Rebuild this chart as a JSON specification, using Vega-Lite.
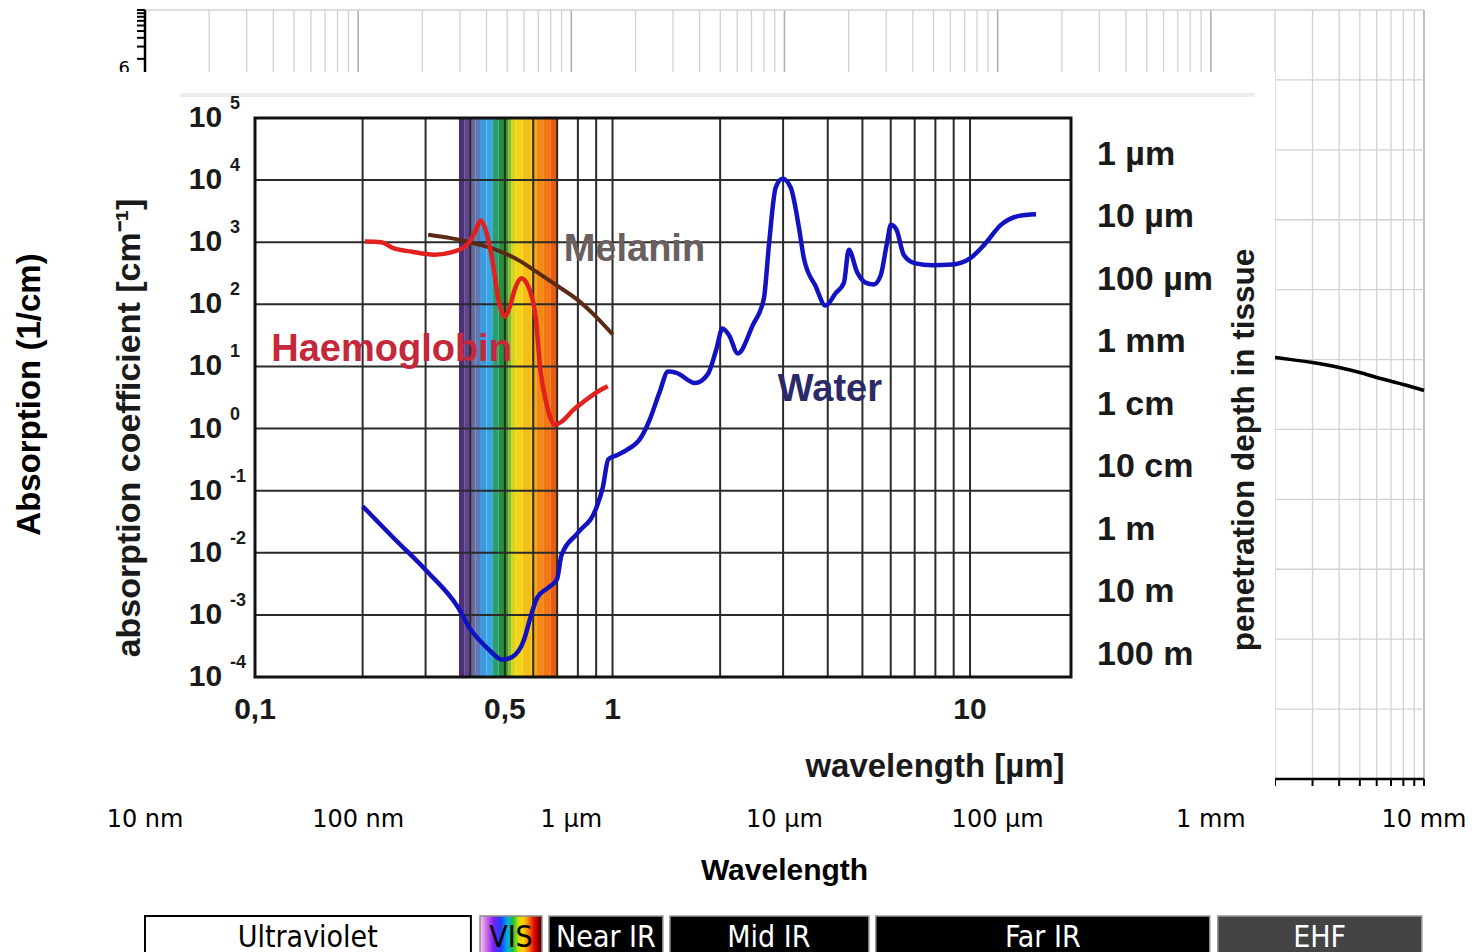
{
"$schema": "https://vega.github.io/schema/vega-lite/v6.json",
"width": 1478, "height": 952, "autosize": "none", "padding": 0, "background": "white",
"config": {"view": {"stroke": null}},
"datasets": {
"outerMinor": [{"w":20},{"w":30},{"w":40},{"w":50},{"w":60},{"w":70},{"w":80},{"w":90},{"w":200},{"w":300},{"w":400},{"w":500},{"w":600},{"w":700},{"w":800},{"w":900},{"w":2000},{"w":3000},{"w":4000},{"w":5000},{"w":6000},{"w":7000},{"w":8000},{"w":9000},{"w":20000},{"w":30000},{"w":40000},{"w":50000},{"w":60000},{"w":70000},{"w":80000},{"w":90000},{"w":200000},{"w":300000},{"w":400000},{"w":500000},{"w":600000},{"w":700000},{"w":800000},{"w":900000},{"w":2000000},{"w":3000000},{"w":4000000},{"w":5000000},{"w":6000000},{"w":7000000},{"w":8000000},{"w":9000000}],
"outerMajor": [{"w":10},{"w":100},{"w":1000},{"w":10000},{"w":100000},{"w":1000000},{"w":10000000}],
"outerDecades": [{"a":0.0001},{"a":0.001},{"a":0.01},{"a":0.1},{"a":1},{"a":10},{"a":100},{"a":1000},{"a":10000},{"a":100000},{"a":1000000},{"a":10000000}],
"outerYTicks": [{"a":0.0001},{"a":0.001},{"a":0.01},{"a":0.1},{"a":1},{"a":10},{"a":100},{"a":1000},{"a":10000},{"a":100000},{"a":1000000},{"a":2000000},{"a":3000000},{"a":4000000},{"a":5000000},{"a":6000000},{"a":7000000},{"a":8000000},{"a":9000000},{"a":10000000}],
"outerXLabels": [{"w":10,"label":"10 nm"},{"w":100,"label":"100 nm"},{"w":1000,"label":"1 μm"},{"w":10000,"label":"10 μm"},{"w":100000,"label":"100 μm"},{"w":1000000,"label":"1 mm"},{"w":10000000,"label":"10 mm"}],
"waterOuter": [{"w":1800000,"a":112},{"w":2000000,"a":107},{"w":3000000,"a":90.6},{"w":4000000,"a":76.9},{"w":5000000,"a":65.2},{"w":6000000,"a":55.3},{"w":8000000,"a":43.9},{"w":10000000,"a":36.1}],
"bands": [
 {"name":"Ultraviolet","start":10,"end":338,"mid":58},
 {"name":"VIS","start":373,"end":728,"mid":521},
 {"name":"Near IR","start":785,"end":2690,"mid":1453},
 {"name":"Mid IR","start":2900,"end":24900,"mid":8450},
 {"name":"Far IR","start":26800,"end":989000,"mid":162900},
 {"name":"EHF","start":1078000,"end":9770000,"mid":3240000}],
"spectrum": [{"lo":0.372,"hi":0.386},{"lo":0.386,"hi":0.399},{"lo":0.399,"hi":0.413},{"lo":0.413,"hi":0.426},{"lo":0.426,"hi":0.444},{"lo":0.444,"hi":0.461},{"lo":0.461,"hi":0.48},{"lo":0.48,"hi":0.5},{"lo":0.5,"hi":0.512},{"lo":0.512,"hi":0.522},{"lo":0.522,"hi":0.534},{"lo":0.534,"hi":0.56},{"lo":0.56,"hi":0.594},{"lo":0.594,"hi":0.612},{"lo":0.612,"hi":0.64},{"lo":0.64,"hi":0.67},{"lo":0.67,"hi":0.7}],
"innerV": [{"w":0.2},{"w":0.3},{"w":0.4},{"w":0.5},{"w":0.6},{"w":0.7},{"w":0.8},{"w":0.9},{"w":1},{"w":2},{"w":3},{"w":4},{"w":5},{"w":6},{"w":7},{"w":8},{"w":9},{"w":10}],
"innerH": [{"a":0.0001},{"a":0.001},{"a":0.01},{"a":0.1},{"a":1},{"a":10},{"a":100},{"a":1000},{"a":10000},{"a":100000}],
"innerXLabels": [{"w":0.1,"label":"0,1"},{"w":0.5,"label":"0,5"},{"w":1,"label":"1"},{"w":10,"label":"10"}],
"water": [{"w":0.2,"a":0.056},{"w":0.245,"a":0.017},{"w":0.304,"a":0.0049},{"w":0.368,"a":0.00138},{"w":0.401,"a":0.00058},{"w":0.447,"a":0.00029},{"w":0.492,"a":0.00019},{"w":0.524,"a":0.00021},{"w":0.565,"a":0.00039},{"w":0.59,"a":0.00093},{"w":0.616,"a":0.0019},{"w":0.664,"a":0.0028},{"w":0.7,"a":0.0038},{"w":0.72,"a":0.0092},{"w":0.8,"a":0.021},{"w":0.9,"a":0.052},{"w":0.94,"a":0.115},{"w":0.973,"a":0.32},{"w":1.026,"a":0.37},{"w":1.094,"a":0.45},{"w":1.2,"a":0.71},{"w":1.27,"a":1.38},{"w":1.355,"a":3.9},{"w":1.43,"a":8.3},{"w":1.51,"a":7.9},{"w":1.7,"a":5.4},{"w":1.85,"a":7.6},{"w":1.95,"a":18.6},{"w":2.03,"a":40.7},{"w":2.12,"a":31.6},{"w":2.24,"a":16.2},{"w":2.47,"a":46.8},{"w":2.65,"a":123},{"w":2.74,"a":933},{"w":2.86,"a":7586},{"w":2.99,"a":10470},{"w":3.15,"a":7586},{"w":3.33,"a":1585},{"w":3.43,"a":550},{"w":3.7,"a":195},{"w":3.94,"a":95.5},{"w":4.21,"a":151},{"w":4.44,"a":224},{"w":4.58,"a":759},{"w":4.83,"a":331},{"w":5.1,"a":224},{"w":5.38,"a":209},{"w":5.62,"a":288},{"w":5.85,"a":933},{"w":6.01,"a":1905},{"w":6.23,"a":1585},{"w":6.52,"a":631},{"w":7.03,"a":457},{"w":7.83,"a":427},{"w":8.89,"a":437},{"w":10,"a":550},{"w":11,"a":933},{"w":12.2,"a":1905},{"w":13.6,"a":2630},{"w":15.3,"a":2818}],
"haem": [{"w":0.203,"a":1023},{"w":0.225,"a":1000},{"w":0.245,"a":794},{"w":0.273,"a":708},{"w":0.317,"a":631},{"w":0.36,"a":708},{"w":0.392,"a":912},{"w":0.413,"a":1479},{"w":0.428,"a":2239},{"w":0.44,"a":1698},{"w":0.46,"a":562},{"w":0.481,"a":110},{"w":0.5,"a":63},{"w":0.515,"a":89},{"w":0.535,"a":186},{"w":0.556,"a":263},{"w":0.58,"a":200},{"w":0.61,"a":60},{"w":0.628,"a":9.1},{"w":0.656,"a":2.3},{"w":0.69,"a":1.15},{"w":0.724,"a":1.32},{"w":0.777,"a":2.0},{"w":0.83,"a":2.7},{"w":0.9,"a":3.8},{"w":0.97,"a":4.8}],
"melanin": [{"w":0.305,"a":1318},{"w":0.35,"a":1175},{"w":0.4,"a":1000},{"w":0.45,"a":832},{"w":0.5,"a":661},{"w":0.55,"a":501},{"w":0.6,"a":363},{"w":0.7,"a":200},{"w":0.8,"a":117},{"w":0.9,"a":63},{"w":1.0,"a":33}],
"curveLabels": [{"label":"Haemoglobin","w":0.111,"a":18.2},{"label":"Melanin","w":0.73,"a":741},{"label":"Water","w":2.9,"a":4.17}],
"exponents": [{"a":100000,"e":"5"},{"a":10000,"e":"4"},{"a":1000,"e":"3"},{"a":100,"e":"2"},{"a":10,"e":"1"},{"a":1,"e":"0"},{"a":0.1,"e":"-1"},{"a":0.01,"e":"-2"},{"a":0.001,"e":"-3"},{"a":0.0001,"e":"-4"}],
"depth": [{"d":0.000001,"t":"1 µm"},{"d":0.00001,"t":"10 µm"},{"d":0.0001,"t":"100 µm"},{"d":0.001,"t":"1 mm"},{"d":0.01,"t":"1 cm"},{"d":0.1,"t":"10 cm"},{"d":1,"t":"1 m"},{"d":10,"t":"10 m"},{"d":100,"t":"100 m"}]
},
"layer": [
{
 "layer": [
  {"data": {"name": "outerMinor"}, "mark": {"type": "rule", "color": "#d2d2d2", "strokeWidth": 1.3},
   "encoding": {
    "x": {"field": "w", "type": "quantitative", "scale": {"type": "log", "domain": [10, 10000000], "range": [145, 1424], "nice": false}, "axis": null},
    "y": {"datum": 0.0001, "type": "quantitative", "scale": {"type": "log", "domain": [0.0001, 10000000], "range": [779, 10], "nice": false}, "axis": null},
    "y2": {"datum": 10000000}}},
  {"data": {"name": "outerMajor"}, "mark": {"type": "rule", "color": "#b0b0b0", "strokeWidth": 1.6},
   "encoding": {
    "x": {"field": "w", "type": "quantitative", "scale": {"type": "log", "domain": [10, 10000000], "range": [145, 1424], "nice": false}, "axis": null},
    "y": {"datum": 0.0001, "type": "quantitative", "scale": {"type": "log", "domain": [0.0001, 10000000], "range": [779, 10], "nice": false}, "axis": null},
    "y2": {"datum": 10000000}}},
  {"data": {"name": "outerDecades"}, "mark": {"type": "rule", "color": "#d2d2d2", "strokeWidth": 1.3},
   "encoding": {
    "y": {"field": "a", "type": "quantitative", "scale": {"type": "log", "domain": [0.0001, 10000000], "range": [779, 10], "nice": false}, "axis": null},
    "x": {"datum": 10, "type": "quantitative", "scale": {"type": "log", "domain": [10, 10000000], "range": [145, 1424], "nice": false}, "axis": null},
    "x2": {"datum": 10000000}}},
  {"data": {"name": "waterOuter"}, "mark": {"type": "line", "color": "#000000", "strokeWidth": 3.5, "interpolate": "monotone"},
   "encoding": {
    "x": {"field": "w", "type": "quantitative", "scale": {"type": "log", "domain": [10, 10000000], "range": [145, 1424], "nice": false}, "axis": null},
    "y": {"field": "a", "type": "quantitative", "scale": {"type": "log", "domain": [0.0001, 10000000], "range": [779, 10], "nice": false}, "axis": null}}},
  {"data": {"values": [{}]}, "mark": {"type": "rule", "color": "#000000", "strokeWidth": 2.5},
   "encoding": {
    "x": {"datum": 10, "type": "quantitative", "scale": {"type": "log", "domain": [10, 10000000], "range": [145, 1424], "nice": false}, "axis": null},
    "x2": {"datum": 10000000},
    "y": {"datum": 0.0001, "type": "quantitative", "scale": {"type": "log", "domain": [0.0001, 10000000], "range": [779, 10], "nice": false}, "axis": null}}},
  {"data": {"name": "outerMinor"}, "mark": {"type": "rule", "color": "#000000", "strokeWidth": 2},
   "encoding": {
    "x": {"field": "w", "type": "quantitative", "scale": {"type": "log", "domain": [10, 10000000], "range": [145, 1424], "nice": false}, "axis": null},
    "y": {"datum": 0.0001, "type": "quantitative", "scale": {"type": "log", "domain": [0.0001, 10000000], "range": [779, 10], "nice": false}, "axis": null},
    "y2": {"datum": 0.0000794}}},
  {"data": {"name": "outerMajor"}, "mark": {"type": "rule", "color": "#000000", "strokeWidth": 2},
   "encoding": {
    "x": {"field": "w", "type": "quantitative", "scale": {"type": "log", "domain": [10, 10000000], "range": [145, 1424], "nice": false}, "axis": null},
    "y": {"datum": 0.0001, "type": "quantitative", "scale": {"type": "log", "domain": [0.0001, 10000000], "range": [779, 10], "nice": false}, "axis": null},
    "y2": {"datum": 0.0000794}}},
  {"data": {"name": "outerXLabels"}, "mark": {"type": "text", "font": "DejaVu Sans", "fontSize": 24, "color": "#000000", "align": "center", "baseline": "middle"},
   "encoding": {
    "x": {"field": "w", "type": "quantitative", "scale": {"type": "log", "domain": [10, 10000000], "range": [145, 1424], "nice": false}, "axis": null},
    "y": {"datum": 0.0000258, "type": "quantitative", "scale": {"type": "log", "domain": [0.0001, 10000000], "range": [779, 10], "nice": false}, "axis": null},
    "text": {"field": "label"}}},
  {"data": {"values": [{"t": "Wavelength"}]}, "mark": {"type": "text", "font": "Liberation Sans", "fontWeight": "bold", "fontSize": 30, "color": "#000000", "align": "center", "baseline": "middle"},
   "encoding": {
    "x": {"datum": 10000, "type": "quantitative", "scale": {"type": "log", "domain": [10, 10000000], "range": [145, 1424], "nice": false}, "axis": null},
    "y": {"datum": 0.0000048, "type": "quantitative", "scale": {"type": "log", "domain": [0.0001, 10000000], "range": [779, 10], "nice": false}, "axis": null},
    "text": {"field": "t"}}},
  {"data": {"values": [{}]}, "mark": {"type": "rule", "color": "#000000", "strokeWidth": 2.5},
   "encoding": {
    "x": {"datum": 10, "type": "quantitative", "scale": {"type": "log", "domain": [10, 10000000], "range": [145, 1424], "nice": false}, "axis": null},
    "y": {"datum": 0.0001, "type": "quantitative", "scale": {"type": "log", "domain": [0.0001, 10000000], "range": [779, 10], "nice": false}, "axis": null},
    "y2": {"datum": 10000000}}},
  {"data": {"name": "outerYTicks"}, "mark": {"type": "rule", "color": "#000000", "strokeWidth": 2},
   "encoding": {
    "y": {"field": "a", "type": "quantitative", "scale": {"type": "log", "domain": [0.0001, 10000000], "range": [779, 10], "nice": false}, "axis": null},
    "x": {"datum": 9.17, "type": "quantitative", "scale": {"type": "log", "domain": [10, 10000000], "range": [145, 1424], "nice": false}, "axis": null},
    "x2": {"datum": 10}}},
  {"data": {"values": [{"a": 1000000, "label": "6"}]}, "mark": {"type": "text", "font": "DejaVu Sans", "fontSize": 18, "color": "#000000", "align": "right", "baseline": "middle", "dy": -11},
   "encoding": {
    "x": {"datum": 8.5, "type": "quantitative", "scale": {"type": "log", "domain": [10, 10000000], "range": [145, 1424], "nice": false}, "axis": null},
    "y": {"field": "a", "type": "quantitative", "scale": {"type": "log", "domain": [0.0001, 10000000], "range": [779, 10], "nice": false}, "axis": null},
    "text": {"field": "label"}}},
  {"data": {"values": [{"t": "Absorption (1/cm)"}]}, "mark": {"type": "text", "font": "Liberation Sans", "fontWeight": "bold", "fontSize": 33, "color": "#000000", "align": "center", "baseline": "middle", "angle": 270},
   "encoding": {
    "x": {"datum": 2.89, "type": "quantitative", "scale": {"type": "log", "domain": [10, 10000000], "range": [145, 1424], "nice": false}, "axis": null},
    "y": {"datum": 31.6, "type": "quantitative", "scale": {"type": "log", "domain": [0.0001, 10000000], "range": [779, 10], "nice": false}, "axis": null},
    "text": {"field": "t"}}}
 ]
},
{
 "layer": [
  {"data": {"name": "bands"}, "transform": [{"filter": "datum.name == 'Ultraviolet'"}],
   "mark": {"type": "rect", "fill": "#ffffff", "stroke": "#000000", "strokeWidth": 2},
   "encoding": {
    "x": {"field": "start", "type": "quantitative", "scale": {"type": "log", "domain": [10, 10000000], "range": [145, 1424], "nice": false}, "axis": null},
    "x2": {"field": "end"},
    "y": {"datum": 0, "type": "quantitative", "scale": {"type": "linear", "domain": [0, 1], "range": [960, 916], "nice": false, "zero": false}, "axis": null},
    "y2": {"datum": 1}}},
  {"data": {"name": "bands"}, "transform": [{"filter": "indexof(['Near IR','Mid IR','Far IR'], datum.name) >= 0"}],
   "mark": {"type": "rect", "fill": "#000000", "stroke": "#9a9a9a", "strokeWidth": 1.5},
   "encoding": {
    "x": {"field": "start", "type": "quantitative", "scale": {"type": "log", "domain": [10, 10000000], "range": [145, 1424], "nice": false}, "axis": null},
    "x2": {"field": "end"},
    "y": {"datum": 0, "type": "quantitative", "scale": {"type": "linear", "domain": [0, 1], "range": [960, 916], "nice": false, "zero": false}, "axis": null},
    "y2": {"datum": 1}}},
  {"data": {"name": "bands"}, "transform": [{"filter": "datum.name == 'EHF'"}],
   "mark": {"type": "rect", "fill": "#444444", "stroke": "#9a9a9a", "strokeWidth": 1.5},
   "encoding": {
    "x": {"field": "start", "type": "quantitative", "scale": {"type": "log", "domain": [10, 10000000], "range": [145, 1424], "nice": false}, "axis": null},
    "x2": {"field": "end"},
    "y": {"datum": 0, "type": "quantitative", "scale": {"type": "linear", "domain": [0, 1], "range": [960, 916], "nice": false, "zero": false}, "axis": null},
    "y2": {"datum": 1}}},
  {"data": {"name": "bands"}, "transform": [{"filter": "datum.name == 'VIS'"}],
   "mark": {"type": "rect", "stroke": "#8a8a8a", "strokeWidth": 1.5,
     "fill": {"gradient": "linear", "x1": 0, "y1": 0, "x2": 1, "y2": 0, "stops": [
       {"offset": 0, "color": "#f4d4f4"}, {"offset": 0.1, "color": "#d070e8"}, {"offset": 0.22, "color": "#7a20f0"}, {"offset": 0.34, "color": "#2040ff"},
       {"offset": 0.45, "color": "#00b0e0"}, {"offset": 0.53, "color": "#10c040"}, {"offset": 0.62, "color": "#c8e000"}, {"offset": 0.7, "color": "#ffd000"},
       {"offset": 0.78, "color": "#ff8000"}, {"offset": 0.86, "color": "#f01000"}, {"offset": 0.94, "color": "#900000"}, {"offset": 1, "color": "#400000"}]}},
   "encoding": {
    "x": {"field": "start", "type": "quantitative", "scale": {"type": "log", "domain": [10, 10000000], "range": [145, 1424], "nice": false}, "axis": null},
    "x2": {"field": "end"},
    "y": {"datum": 0, "type": "quantitative", "scale": {"type": "linear", "domain": [0, 1], "range": [960, 916], "nice": false, "zero": false}, "axis": null},
    "y2": {"datum": 1}}},
  {"data": {"name": "bands"}, "transform": [{"filter": "datum.name == 'Ultraviolet' || datum.name == 'VIS'"}],
   "mark": {"type": "text", "font": "DejaVu Sans Condensed, Liberation Sans Narrow, DejaVu Sans", "fontSize": 30, "color": "#000000", "align": "center", "baseline": "alphabetic"},
   "encoding": {
    "x": {"field": "mid", "type": "quantitative", "scale": {"type": "log", "domain": [10, 10000000], "range": [145, 1424], "nice": false}, "axis": null},
    "y": {"datum": 0.3, "type": "quantitative", "scale": {"type": "linear", "domain": [0, 1], "range": [960, 916], "nice": false, "zero": false}, "axis": null},
    "text": {"field": "name"}}},
  {"data": {"name": "bands"}, "transform": [{"filter": "datum.name != 'Ultraviolet' && datum.name != 'VIS'"}],
   "mark": {"type": "text", "font": "DejaVu Sans Condensed, Liberation Sans Narrow, DejaVu Sans", "fontSize": 30, "color": "#ffffff", "align": "center", "baseline": "alphabetic"},
   "encoding": {
    "x": {"field": "mid", "type": "quantitative", "scale": {"type": "log", "domain": [10, 10000000], "range": [145, 1424], "nice": false}, "axis": null},
    "y": {"datum": 0.3, "type": "quantitative", "scale": {"type": "linear", "domain": [0, 1], "range": [960, 916], "nice": false, "zero": false}, "axis": null},
    "text": {"field": "name"}}}
 ]
},
{
 "layer": [
  {"data": {"values": [{}]}, "mark": {"type": "rect", "fill": "#ffffff"},
   "encoding": {
    "x": {"datum": 0.0314, "type": "quantitative", "scale": {"type": "log", "domain": [0.1, 19.16], "range": [255, 1071], "nice": false}, "axis": null},
    "x2": {"datum": 71.3},
    "y": {"datum": 0.00000126, "type": "quantitative", "scale": {"type": "log", "domain": [0.0001, 100000], "range": [677, 118], "nice": false}, "axis": null},
    "y2": {"datum": 550000}}},
  {"data": {"values": [{}]}, "mark": {"type": "rule", "color": "#ededed", "strokeWidth": 4},
   "encoding": {
    "x": {"datum": 0.0617, "type": "quantitative", "scale": {"type": "log", "domain": [0.1, 19.16], "range": [255, 1071], "nice": false}, "axis": null},
    "x2": {"datum": 62.7},
    "y": {"datum": 234000, "type": "quantitative", "scale": {"type": "log", "domain": [0.0001, 100000], "range": [677, 118], "nice": false}, "axis": null}}},
  {"data": {"name": "spectrum"}, "mark": {"type": "rect"},
   "encoding": {
    "x": {"field": "lo", "type": "quantitative", "scale": {"type": "log", "domain": [0.1, 19.16], "range": [255, 1071], "nice": false}, "axis": null},
    "x2": {"field": "hi"},
    "y": {"datum": 0.0001, "type": "quantitative", "scale": {"type": "log", "domain": [0.0001, 100000], "range": [677, 118], "nice": false}, "axis": null},
    "y2": {"datum": 100000},
    "color": {"field": "lo", "type": "nominal", "legend": null,
      "scale": {"domain": [0.372,0.386,0.399,0.413,0.426,0.444,0.461,0.48,0.5,0.512,0.522,0.534,0.56,0.594,0.612,0.64,0.67],
                "range": ["#4e2f78","#5d4590","#6b6a9c","#5d7ab5","#3f98dc","#35a6e6","#2a9c78","#24923a","#3a9a22","#8cba20","#d6d41c","#f4d51a","#f6c012","#f2aa08","#f58a12","#f27612","#e85c12"]}}}},
  {"data": {"name": "innerV"}, "mark": {"type": "rule", "color": "#2a2a2a", "strokeWidth": 2},
   "encoding": {
    "x": {"field": "w", "type": "quantitative", "scale": {"type": "log", "domain": [0.1, 19.16], "range": [255, 1071], "nice": false}, "axis": null},
    "y": {"datum": 0.0001, "type": "quantitative", "scale": {"type": "log", "domain": [0.0001, 100000], "range": [677, 118], "nice": false}, "axis": null},
    "y2": {"datum": 100000}}},
  {"data": {"name": "innerH"}, "mark": {"type": "rule", "color": "#2a2a2a", "strokeWidth": 2},
   "encoding": {
    "y": {"field": "a", "type": "quantitative", "scale": {"type": "log", "domain": [0.0001, 100000], "range": [677, 118], "nice": false}, "axis": null},
    "x": {"datum": 0.1, "type": "quantitative", "scale": {"type": "log", "domain": [0.1, 19.16], "range": [255, 1071], "nice": false}, "axis": null},
    "x2": {"datum": 19.16}}},
  {"data": {"values": [{}]}, "mark": {"type": "rect", "filled": false, "stroke": "#111111", "strokeWidth": 3},
   "encoding": {
    "x": {"datum": 0.1, "type": "quantitative", "scale": {"type": "log", "domain": [0.1, 19.16], "range": [255, 1071], "nice": false}, "axis": null},
    "x2": {"datum": 19.16},
    "y": {"datum": 0.0001, "type": "quantitative", "scale": {"type": "log", "domain": [0.0001, 100000], "range": [677, 118], "nice": false}, "axis": null},
    "y2": {"datum": 100000}}},
  {"data": {"name": "melanin"}, "mark": {"type": "line", "color": "#5a2a14", "strokeWidth": 4, "interpolate": "monotone"},
   "encoding": {
    "x": {"field": "w", "type": "quantitative", "scale": {"type": "log", "domain": [0.1, 19.16], "range": [255, 1071], "nice": false}, "axis": null},
    "y": {"field": "a", "type": "quantitative", "scale": {"type": "log", "domain": [0.0001, 100000], "range": [677, 118], "nice": false}, "axis": null}}},
  {"data": {"name": "haem"}, "mark": {"type": "line", "color": "#e2201e", "strokeWidth": 4.5, "interpolate": "monotone"},
   "encoding": {
    "x": {"field": "w", "type": "quantitative", "scale": {"type": "log", "domain": [0.1, 19.16], "range": [255, 1071], "nice": false}, "axis": null},
    "y": {"field": "a", "type": "quantitative", "scale": {"type": "log", "domain": [0.0001, 100000], "range": [677, 118], "nice": false}, "axis": null}}},
  {"data": {"name": "water"}, "mark": {"type": "line", "color": "#1212c0", "strokeWidth": 4.5, "interpolate": "monotone"},
   "encoding": {
    "x": {"field": "w", "type": "quantitative", "scale": {"type": "log", "domain": [0.1, 19.16], "range": [255, 1071], "nice": false}, "axis": null},
    "y": {"field": "a", "type": "quantitative", "scale": {"type": "log", "domain": [0.0001, 100000], "range": [677, 118], "nice": false}, "axis": null}}},
  {"data": {"name": "curveLabels"}, "transform": [{"filter": "datum.label == 'Haemoglobin'"}],
   "mark": {"type": "text", "align": "left", "baseline": "middle", "font": "Liberation Sans", "fontWeight": "bold", "fontSize": 38, "color": "#c4283a"},
   "encoding": {
    "x": {"field": "w", "type": "quantitative", "scale": {"type": "log", "domain": [0.1, 19.16], "range": [255, 1071], "nice": false}, "axis": null},
    "y": {"field": "a", "type": "quantitative", "scale": {"type": "log", "domain": [0.0001, 100000], "range": [677, 118], "nice": false}, "axis": null},
    "text": {"field": "label"}}},
  {"data": {"name": "curveLabels"}, "transform": [{"filter": "datum.label == 'Melanin'"}],
   "mark": {"type": "text", "align": "left", "baseline": "middle", "font": "Liberation Sans", "fontWeight": "bold", "fontSize": 38, "color": "#6a5f5f"},
   "encoding": {
    "x": {"field": "w", "type": "quantitative", "scale": {"type": "log", "domain": [0.1, 19.16], "range": [255, 1071], "nice": false}, "axis": null},
    "y": {"field": "a", "type": "quantitative", "scale": {"type": "log", "domain": [0.0001, 100000], "range": [677, 118], "nice": false}, "axis": null},
    "text": {"field": "label"}}},
  {"data": {"name": "curveLabels"}, "transform": [{"filter": "datum.label == 'Water'"}],
   "mark": {"type": "text", "align": "left", "baseline": "middle", "font": "Liberation Sans", "fontWeight": "bold", "fontSize": 38, "color": "#2b2a66"},
   "encoding": {
    "x": {"field": "w", "type": "quantitative", "scale": {"type": "log", "domain": [0.1, 19.16], "range": [255, 1071], "nice": false}, "axis": null},
    "y": {"field": "a", "type": "quantitative", "scale": {"type": "log", "domain": [0.0001, 100000], "range": [677, 118], "nice": false}, "axis": null},
    "text": {"field": "label"}}},
  {"data": {"name": "exponents"},
   "mark": {"type": "text", "align": "right", "baseline": "middle", "font": "Liberation Sans", "fontWeight": "bold", "fontSize": 30, "color": "#1a1a1a"},
   "encoding": {
    "x": {"datum": 0.0809, "type": "quantitative", "scale": {"type": "log", "domain": [0.1, 19.16], "range": [255, 1071], "nice": false}, "axis": null},
    "y": {"field": "a", "type": "quantitative", "scale": {"type": "log", "domain": [0.0001, 100000], "range": [677, 118], "nice": false}, "axis": null},
    "text": {"value": "10"}}},
  {"data": {"name": "exponents"},
   "mark": {"type": "text", "align": "left", "baseline": "middle", "dy": -14, "font": "Liberation Sans", "fontWeight": "bold", "fontSize": 18, "color": "#1a1a1a"},
   "encoding": {
    "x": {"datum": 0.0851, "type": "quantitative", "scale": {"type": "log", "domain": [0.1, 19.16], "range": [255, 1071], "nice": false}, "axis": null},
    "y": {"field": "a", "type": "quantitative", "scale": {"type": "log", "domain": [0.0001, 100000], "range": [677, 118], "nice": false}, "axis": null},
    "text": {"field": "e"}}},
  {"data": {"name": "innerXLabels"},
   "mark": {"type": "text", "align": "center", "baseline": "middle", "font": "Liberation Sans", "fontWeight": "bold", "fontSize": 30, "color": "#1a1a1a"},
   "encoding": {
    "x": {"field": "w", "type": "quantitative", "scale": {"type": "log", "domain": [0.1, 19.16], "range": [255, 1071], "nice": false}, "axis": null},
    "y": {"datum": 0.0000293, "type": "quantitative", "scale": {"type": "log", "domain": [0.0001, 100000], "range": [677, 118], "nice": false}, "axis": null},
    "text": {"field": "label"}}},
  {"data": {"values": [{"t": "wavelength [µm]"}]},
   "mark": {"type": "text", "align": "center", "baseline": "middle", "font": "Liberation Sans", "fontWeight": "bold", "fontSize": 33, "color": "#1a1a1a"},
   "encoding": {
    "x": {"datum": 7.98, "type": "quantitative", "scale": {"type": "log", "domain": [0.1, 19.16], "range": [255, 1071], "nice": false}, "axis": null},
    "y": {"datum": 0.00000354, "type": "quantitative", "scale": {"type": "log", "domain": [0.0001, 100000], "range": [677, 118], "nice": false}, "axis": null},
    "text": {"field": "t"}}},
  {"data": {"values": [{"t": "absorption coefficient [cm⁻¹]"}]},
   "mark": {"type": "text", "align": "center", "baseline": "middle", "angle": 270, "font": "Liberation Sans", "fontWeight": "bold", "fontSize": 34, "color": "#1a1a1a"},
   "encoding": {
    "x": {"datum": 0.0447, "type": "quantitative", "scale": {"type": "log", "domain": [0.1, 19.16], "range": [255, 1071], "nice": false}, "axis": null},
    "y": {"datum": 1.02, "type": "quantitative", "scale": {"type": "log", "domain": [0.0001, 100000], "range": [677, 118], "nice": false}, "axis": null},
    "text": {"field": "t"}}}
 ]
},
{
 "layer": [
  {"data": {"name": "depth"},
   "mark": {"type": "text", "align": "left", "baseline": "middle", "font": "Liberation Sans", "fontWeight": "bold", "fontSize": 34, "color": "#1a1a1a"},
   "encoding": {
    "x": {"datum": 22.65, "type": "quantitative", "scale": {"type": "log", "domain": [0.1, 19.16], "range": [255, 1071], "nice": false}, "axis": null},
    "y": {"field": "d", "type": "quantitative", "scale": {"type": "log", "domain": [2.559e-7, 224.9], "range": [118, 677], "nice": false}, "axis": null},
    "text": {"field": "t"}}},
  {"data": {"values": [{"title": "penetration depth in tissue"}]},
   "mark": {"type": "text", "align": "center", "baseline": "middle", "angle": 270, "font": "Liberation Sans", "fontWeight": "bold", "fontSize": 31.5, "color": "#1a1a1a"},
   "encoding": {
    "x": {"datum": 58.8, "type": "quantitative", "scale": {"type": "log", "domain": [0.1, 19.16], "range": [255, 1071], "nice": false}, "axis": null},
    "y": {"datum": 0.0525, "type": "quantitative", "scale": {"type": "log", "domain": [2.559e-7, 224.9], "range": [118, 677], "nice": false}, "axis": null},
    "text": {"field": "title"}}}
 ]
}
],
"resolve": {"scale": {"x": "independent", "y": "independent"}}
}
